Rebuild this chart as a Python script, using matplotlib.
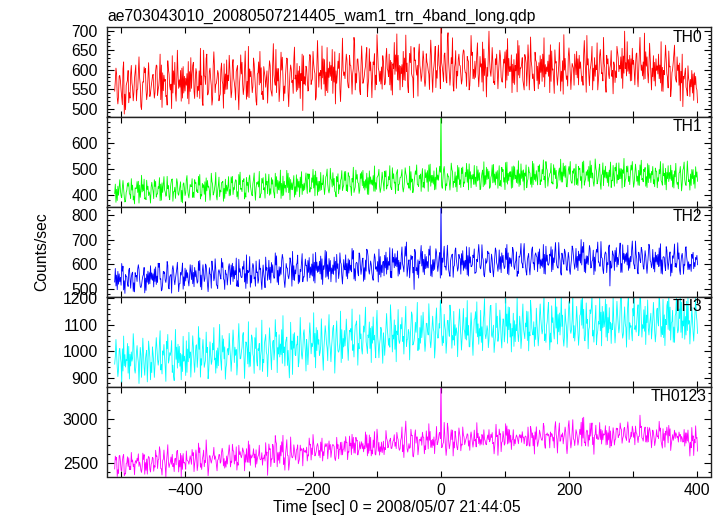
import numpy as np
import matplotlib
matplotlib.use("Agg")
import matplotlib.pyplot as plt
from matplotlib.ticker import MultipleLocator, FormatStrFormatter

plt.rcParams['font.family'] = ['Liberation Sans', 'DejaVu Sans']

# ---- data: 1-s bins starting at t = -510 s, values read/estimated from the plot ----
# "a" lists hold bins t = -510, -507, ...; "b" lists t = -509, -506, ...; "c" lists t = -508, -505, ...
time_start = -510
time_step = 1.0

th0_a = [
    545, 590, 532, 571, 510, 486, 560, 598, 527, 566, 541, 612, 550, 579, 498, 568, 603, 539, 575, 556,
    588, 541, 610, 559, 523, 592, 570, 534, 601, 548, 636, 562, 519, 587, 555, 604, 540, 578, 526, 595,
    552, 619, 574, 530, 597, 561, 508, 583, 640, 548, 577, 524, 606, 565, 590, 537, 571, 615, 549, 586,
    600, 543, 578, 522, 611, 563, 589, 536, 648, 570, 528, 596, 557, 583, 509, 620, 566, 544, 593, 575,
    561, 610, 532, 587, 652, 571, 546, 599, 520, 584, 627, 558, 601, 539, 576, 616, 553, 590, 495, 582,
    603, 547, 634, 576, 598, 530, 612, 585, 661, 563, 594, 541, 620, 572, 607, 512, 589, 642, 568, 599,
    577, 625, 553, 611, 590, 669, 566, 604, 536, 618, 582, 640, 559, 597, 528, 613, 586, 648, 570, 607,
    621, 566, 603, 640, 547, 615, 588, 692, 573, 609, 556, 630, 595, 541, 618, 583, 657, 600, 532, 611,
    584, 628, 571, 613, 549, 637, 596, 660, 578, 612, 735, 590, 643, 566, 619, 585, 682, 604, 552, 627,
    610, 574, 648, 592, 625, 559, 637, 601, 580, 669, 588, 615, 545, 629, 606, 699, 583, 621, 562, 640,
    594, 633, 568, 617, 651, 585, 608, 541, 626, 597, 675, 579, 614, 560, 631, 600, 548, 622, 589, 645,
    572, 618, 593, 640, 556, 607, 583, 664, 599, 539, 621, 587, 612, 570, 690, 596, 558, 628, 581, 604,
    615, 579, 637, 596, 560, 623, 688, 587, 609, 548, 631, 600, 574, 652, 592, 616, 542, 628, 605, 583,
    620, 597, 646, 611, 578, 635, 603, 672, 590, 628, 614, 561, 643, 600, 625, 584, 694, 609, 566, 632,
    604, 571, 628, 589, 612, 545, 598, 663, 580, 607, 552, 619, 585, 633, 560, 596, 505, 590, 548, 578,
    575, 540, 592, 553,
]
th0_b = [
    571, 529, 583, 548, 602, 537, 566, 515, 589, 553, 578, 520, 594, 561, 540, 607, 549, 582, 531, 569,
    553, 597, 534, 581, 612, 546, 575, 509, 588, 563, 540, 619, 571, 552, 598, 527, 583, 560, 621, 544,
    590, 545, 603, 557, 526, 584, 650, 562, 535, 596, 559, 611, 541, 578, 520, 600, 563, 538, 625, 572,
    558, 612, 567, 595, 540, 586, 619, 553, 578, 531, 602, 566, 630, 548, 589, 561, 605, 523, 580, 597,
    596, 549, 618, 570, 541, 603, 587, 632, 558, 611, 543, 592, 567, 625, 586, 548, 609, 572, 636, 560,
    575, 619, 562, 647, 590, 611, 555, 598, 579, 626, 546, 604, 583, 652, 568, 597, 622, 551, 607, 585,
    613, 570, 637, 584, 603, 548, 626, 591, 610, 565, 599, 657, 578, 620, 587, 641, 562, 604, 596, 550,
    584, 632, 597, 561, 619, 603, 638, 574, 611, 590, 647, 572, 617, 605, 660, 579, 623, 586, 642, 597,
    612, 575, 641, 598, 626, 583, 609, 554, 630, 601, 618, 569, 605, 677, 592, 631, 560, 615, 596, 640,
    588, 636, 603, 557, 621, 598, 645, 576, 612, 590, 634, 568, 653, 601, 583, 622, 609, 566, 628, 594,
    620, 581, 602, 646, 573, 629, 595, 614, 562, 641, 586, 605, 631, 548, 617, 664, 590, 607, 573, 625,
    609, 563, 627, 581, 613, 595, 638, 570, 602, 651, 584, 610, 545, 623, 599, 575, 634, 592, 616, 560,
    587, 628, 603, 570, 641, 597, 612, 559, 625, 604, 583, 669, 596, 620, 571, 606, 637, 588, 614, 598,
    612, 580, 631, 602, 655, 591, 618, 596, 637, 572, 624, 609, 583, 646, 598, 620, 577, 633, 611, 590,
    582, 619, 598, 640, 566, 606, 587, 624, 553, 609, 592, 641, 574, 598, 617, 566, 583, 604, 533, 569,
    556, 589, 561, 548,
]
th0_c = [
    604, 512, 585, 530, 620, 497, 573, 541, 611, 520, 596, 548, 633, 505, 569, 592, 523, 618, 540, 582,
    527, 612, 549, 640, 503, 586, 531, 623, 558, 500, 597, 541, 650, 574, 519, 608, 545, 590, 512, 631,
    611, 526, 593, 547, 655, 518, 584, 629, 537, 604, 509, 646, 562, 598, 532, 617, 501, 589, 550, 637,
    528, 626, 551, 603, 497, 638, 564, 599, 524, 660, 582, 541, 615, 519, 592, 647, 536, 608, 555, 514,
    623, 541, 667, 560, 603, 518, 645, 582, 539, 630, 505, 612, 573, 658, 544, 597, 526, 640, 563, 609,
    545, 639, 571, 615, 522, 675, 592, 550, 628, 533, 657, 580, 611, 539, 646, 565, 603, 518, 681, 594,
    640, 556, 612, 537, 683, 590, 628, 545, 661, 572, 609, 531, 654, 583, 620, 548, 690, 597, 563, 636,
    561, 655, 582, 624, 535, 670, 596, 637, 548, 613, 574, 689, 557, 642, 590, 528, 625, 611, 666, 570,
    648, 557, 620, 589, 676, 542, 631, 598, 663, 551, 607, 638, 573, 695, 560, 616, 545, 649, 584, 612,
    563, 651, 592, 634, 548, 688, 577, 622, 640, 556, 607, 671, 585, 530, 645, 596, 657, 570, 613, 551,
    650, 569, 627, 553, 680, 595, 638, 566, 611, 543, 662, 604, 573, 639, 558, 625, 684, 577, 546, 620,
    551, 636, 570, 682, 589, 622, 541, 648, 575, 617, 560, 670, 596, 537, 629, 584, 656, 549, 610, 640,
    647, 561, 620, 583, 675, 542, 628, 600, 660, 571, 612, 548, 637, 590, 683, 566, 615, 577, 649, 538,
    567, 660, 595, 633, 552, 699, 584, 626, 571, 655, 598, 640, 556, 683, 612, 575, 646, 591, 668, 548,
    636, 558, 610, 577, 672, 544, 625, 590, 648, 531, 601, 663, 568, 612, 520, 640, 576, 555, 610, 531,
    598, 521, 583, 515,
]

th1_a = [
    405, 421, 398, 416, 427, 391, 410, 433, 402, 418, 395, 424, 409, 437, 475, 415, 388, 420, 411, 429,
    414, 432, 403, 425, 441, 409, 419, 398, 436, 422, 461, 412, 428, 404, 433, 417, 446, 408, 424, 415,
    431, 410, 444, 419, 437, 401, 428, 450, 415, 433, 407, 440, 422, 395, 436, 418, 447, 425, 404, 430,
    420, 446, 428, 458, 412, 439, 425, 451, 407, 436, 463, 421, 442, 416, 448, 430, 402, 445, 427, 438,
    449, 423, 441, 405, 432, 456, 418, 444, 398, 437, 428, 466, 420, 446, 431, 413, 452, 426, 440, 419,
    434, 461, 427, 448, 476, 437, 452, 416, 445, 430, 469, 441, 424, 457, 436, 410, 450, 439, 463, 429,
    455, 438, 472, 431, 449, 419, 460, 444, 481, 435, 452, 426, 466, 441, 457, 414, 447, 470, 433, 451,
    443, 469, 437, 458, 425, 462, 449, 487, 440, 466, 431, 455, 472, 445, 418, 461, 450, 478, 438, 463,
    471, 448, 466, 493, 452, 475, 441, 468, 457, 484, 720, 462, 479, 436, 470, 455, 489, 447, 473, 460,
    458, 482, 449, 470, 497, 461, 476, 440, 468, 453, 485, 464, 431, 474, 459, 491, 467, 446, 480, 462,
    477, 455, 489, 466, 448, 483, 470, 508, 459, 475, 444, 481, 463, 496, 472, 451, 486, 468, 439, 479,
    466, 490, 457, 481, 470, 503, 462, 485, 449, 477, 494, 468, 456, 488, 472, 512, 460, 479, 445, 483,
    481, 462, 497, 470, 486, 451, 475, 509, 466, 484, 458, 490, 473, 443, 479, 495, 464, 487, 470, 456,
    468, 492, 477, 461, 500, 483, 455, 488, 471, 514, 466, 480, 452, 494, 476, 463, 489, 470, 447, 482,
    477, 458, 491, 466, 481, 449, 473, 502, 462, 486, 455, 478, 469, 440, 484, 467, 495, 459, 474, 451,
    480, 462, 475, 468,
]
th1_b = [
    441, 378, 430, 395, 455, 372, 418, 447, 386, 437, 365, 424, 452, 390, 411, 460, 381, 433, 399, 448,
    385, 452, 403, 466, 379, 437, 410, 471, 392, 444, 375, 429, 462, 398, 450, 369, 426, 458, 401, 440,
    462, 389, 447, 408, 478, 395, 439, 374, 455, 417, 483, 399, 441, 380, 468, 411, 452, 386, 437, 470,
    398, 471, 420, 455, 383, 487, 412, 462, 391, 448, 476, 403, 459, 379, 441, 490, 405, 466, 387, 452,
    479, 402, 458, 388, 470, 419, 495, 396, 452, 410, 483, 381, 446, 474, 400, 461, 392, 489, 415, 456,
    405, 480, 423, 498, 396, 467, 412, 486, 439, 401, 474, 418, 502, 430, 463, 392, 481, 421, 493, 437,
    490, 412, 471, 397, 506, 430, 478, 405, 463, 494, 418, 483, 401, 469, 437, 511, 421, 476, 409, 487,
    415, 493, 436, 512, 420, 481, 404, 497, 441, 475, 411, 504, 447, 425, 489, 408, 470, 515, 432, 480,
    501, 426, 485, 413, 518, 447, 492, 421, 476, 510, 435, 496, 417, 481, 449, 522, 428, 488, 412, 505,
    428, 507, 445, 521, 419, 489, 461, 513, 432, 496, 420, 482, 527, 441, 499, 425, 476, 517, 438, 493,
    512, 431, 497, 420, 526, 455, 489, 428, 508, 447, 531, 438, 493, 418, 515, 461, 484, 429, 520, 452,
    438, 516, 452, 534, 427, 495, 469, 521, 441, 503, 424, 488, 537, 449, 510, 433, 496, 528, 445, 501,
    518, 436, 502, 425, 530, 460, 496, 431, 514, 449, 538, 442, 499, 421, 523, 467, 487, 433, 526, 455,
    433, 522, 458, 501, 426, 540, 463, 511, 439, 495, 429, 518, 472, 436, 533, 450, 505, 428, 514, 447,
    509, 431, 490, 452, 528, 437, 483, 419, 512, 461, 494, 426, 521, 448, 486, 415, 503, 441, 530, 458,
    436, 497, 425, 488,
]
th1_c = [
    371, 433, 458, 389, 420, 376, 445, 403, 462, 380, 427, 451, 368, 415, 439, 384, 456, 397, 368, 428,
    458, 391, 431, 377, 446, 470, 394, 423, 381, 459, 412, 386, 447, 415, 373, 441, 397, 474, 388, 432,
    390, 458, 413, 471, 384, 444, 402, 465, 429, 379, 451, 407, 486, 418, 393, 447, 375, 460, 414, 396,
    469, 401, 446, 392, 478, 421, 455, 384, 467, 410, 438, 396, 484, 427, 451, 388, 463, 419, 481, 404,
    398, 466, 417, 483, 405, 451, 386, 472, 426, 494, 408, 459, 419, 391, 477, 429, 468, 401, 445, 484,
    481, 410, 465, 426, 491, 398, 452, 419, 476, 432, 499, 407, 461, 485, 413, 470, 404, 455, 417, 489,
    416, 485, 432, 463, 409, 495, 447, 418, 488, 426, 458, 402, 492, 440, 474, 413, 467, 498, 425, 461,
    491, 422, 470, 433, 504, 445, 478, 416, 466, 497, 427, 483, 438, 510, 449, 421, 492, 440, 474, 413,
    429, 497, 448, 515, 433, 475, 419, 504, 456, 487, 425, 509, 442, 472, 418, 498, 451, 430, 513, 440,
    503, 431, 486, 448, 519, 427, 479, 440, 510, 456, 423, 495, 437, 506, 462, 430, 515, 448, 488, 425,
    435, 506, 449, 524, 441, 488, 425, 511, 463, 496, 432, 519, 452, 484, 427, 507, 440, 529, 458, 493,
    511, 439, 497, 458, 528, 433, 482, 445, 516, 462, 435, 503, 449, 522, 467, 430, 509, 456, 492, 437,
    440, 509, 455, 526, 437, 489, 452, 531, 464, 433, 502, 451, 518, 476, 435, 510, 447, 495, 428, 513,
    505, 444, 523, 462, 496, 432, 510, 451, 484, 528, 446, 491, 437, 515, 458, 498, 433, 520, 463, 490,
    442, 503, 427, 497, 455, 520, 439, 486, 451, 514, 430, 492, 457, 423, 509, 444, 526, 436, 484, 418,
    497, 441, 508, 452,
]

th2_a = [
    528, 556, 519, 547, 572, 533, 551, 510, 542, 563, 525, 549, 581, 537, 515, 558, 544, 527, 566, 539,
    561, 530, 552, 588, 541, 524, 569, 546, 507, 555, 578, 536, 560, 543, 521, 574, 549, 532, 566, 548,
    538, 567, 549, 523, 575, 556, 598, 541, 563, 530, 558, 580, 545, 516, 569, 551, 587, 536, 560, 547,
    574, 549, 591, 557, 533, 568, 546, 580, 562, 522, 571, 555, 603, 548, 566, 537, 584, 559, 541, 576,
    559, 588, 566, 543, 597, 575, 552, 614, 568, 546, 584, 561, 590, 537, 577, 603, 556, 571, 529, 585,
    596, 567, 589, 552, 608, 575, 593, 561, 622, 579, 547, 598, 571, 585, 559, 612, 583, 566, 601, 574,
    577, 603, 564, 596, 621, 582, 608, 553, 594, 617, 586, 572, 633, 589, 566, 604, 580, 611, 558, 597,
    612, 585, 627, 596, 571, 608, 643, 590, 616, 579, 601, 624, 690, 605, 588, 632, 498, 574, 618, 603,
    593, 620, 582, 611, 637, 598, 574, 616, 603, 629, 860, 608, 589, 626, 577, 614, 641, 595, 618, 586,
    622, 597, 614, 580, 635, 605, 591, 627, 566, 610, 638, 599, 618, 584, 612, 646, 600, 575, 621, 606,
    598, 631, 607, 582, 619, 646, 603, 625, 590, 614, 571, 629, 608, 652, 595, 617, 585, 623, 604, 637,
    629, 601, 618, 588, 640, 612, 596, 633, 659, 607, 622, 584, 615, 645, 600, 627, 610, 574, 621, 634,
    607, 632, 614, 700, 648, 621, 603, 639, 585, 617, 629, 660, 608, 592, 625, 612, 643, 599, 512, 588,
    634, 611, 628, 652, 603, 619, 641, 597, 626, 610, 636, 581, 622, 649, 607, 630, 615, 593, 638, 614,
    603, 627, 609, 640, 592, 618, 631, 574, 612, 635, 601, 624, 589, 615, 646, 607, 620, 596, 629, 610,
    598, 624, 607, 619,
]
th2_b = [
    583, 497, 561, 515, 592, 482, 549, 576, 503, 568, 488, 555, 598, 510, 537, 587, 494, 572, 521, 565,
    508, 589, 526, 603, 492, 571, 535, 611, 500, 558, 594, 517, 580, 489, 566, 605, 513, 577, 531, 598,
    596, 509, 574, 530, 615, 497, 563, 601, 520, 586, 503, 569, 622, 514, 578, 540, 607, 498, 560, 589,
    518, 604, 541, 625, 509, 582, 547, 613, 502, 575, 631, 524, 593, 511, 569, 619, 530, 597, 505, 586,
    616, 524, 598, 545, 634, 517, 588, 640, 531, 603, 552, 626, 511, 594, 561, 637, 527, 609, 549, 621,
    531, 627, 556, 642, 524, 609, 570, 633, 518, 596, 651, 540, 615, 562, 629, 527, 602, 646, 553, 619,
    638, 541, 617, 569, 655, 533, 604, 646, 559, 625, 538, 661, 577, 613, 546, 642, 590, 528, 631, 566,
    553, 649, 578, 667, 545, 628, 593, 654, 560, 637, 589, 672, 551, 618, 637, 565, 660, 586, 544, 641,
    652, 558, 631, 585, 674, 549, 620, 663, 571, 647, 556, 638, 592, 677, 562, 629, 547, 656, 598, 640,
    560, 655, 584, 671, 552, 630, 599, 662, 568, 645, 588, 679, 557, 623, 653, 575, 641, 549, 666, 596,
    658, 566, 636, 590, 680, 557, 625, 668, 579, 650, 563, 643, 601, 684, 570, 632, 557, 661, 606, 646,
    570, 662, 593, 680, 560, 637, 606, 671, 578, 652, 596, 688, 566, 631, 661, 584, 648, 559, 674, 603,
    664, 574, 641, 597, 689, 565, 633, 676, 586, 657, 572, 649, 609, 692, 579, 640, 566, 669, 613, 654,
    575, 667, 598, 686, 567, 644, 611, 677, 584, 659, 603, 694, 572, 638, 668, 590, 655, 563, 681, 609,
    660, 569, 636, 590, 683, 560, 627, 671, 579, 650, 566, 643, 603, 687, 575, 634, 560, 664, 607, 579,
    571, 648, 590, 636,
]
th2_c = [
    512, 571, 529, 603, 496, 558, 521, 584, 547, 490, 566, 530, 579, 505, 552, 484, 560, 519, 594, 535,
    581, 518, 604, 539, 497, 563, 526, 596, 549, 483, 575, 542, 608, 521, 556, 499, 584, 545, 512, 570,
    521, 587, 545, 612, 508, 570, 530, 594, 489, 561, 613, 533, 580, 502, 567, 624, 541, 576, 516, 602,
    597, 530, 574, 511, 620, 553, 590, 528, 638, 566, 507, 584, 541, 613, 523, 579, 498, 561, 629, 535,
    538, 607, 555, 646, 527, 590, 559, 624, 506, 585, 541, 613, 652, 534, 600, 521, 579, 643, 548, 594,
    615, 545, 601, 532, 648, 567, 612, 539, 594, 656, 551, 623, 529, 597, 575, 640, 542, 608, 520, 585,
    551, 622, 575, 664, 540, 603, 566, 639, 582, 531, 617, 654, 560, 598, 535, 627, 571, 661, 548, 609,
    636, 560, 611, 547, 663, 586, 627, 552, 608, 670, 569, 633, 580, 545, 620, 588, 648, 558, 612, 676,
    568, 640, 585, 661, 553, 618, 579, 648, 596, 544, 625, 673, 576, 614, 551, 639, 590, 666, 572, 625,
    643, 575, 616, 557, 668, 590, 637, 563, 620, 680, 581, 628, 549, 604, 644, 566, 619, 588, 655, 571,
    580, 646, 598, 665, 562, 627, 591, 656, 605, 551, 632, 684, 585, 620, 556, 643, 599, 670, 577, 634,
    650, 583, 622, 562, 673, 598, 641, 570, 626, 688, 588, 635, 556, 610, 651, 575, 627, 596, 664, 580,
    587, 653, 605, 672, 570, 634, 598, 663, 612, 558, 640, 690, 592, 627, 562, 650, 606, 678, 584, 641,
    656, 589, 629, 567, 679, 604, 646, 575, 632, 694, 594, 641, 561, 616, 658, 580, 633, 600, 670, 586,
    581, 649, 599, 666, 563, 628, 592, 657, 606, 552, 634, 682, 587, 621, 558, 644, 600, 671, 578, 600,
    640, 582, 627, 598,
]

th3_a = [
    952, 995, 931, 978, 1010, 946, 970, 918, 989, 963, 1025, 940, 981, 955, 902, 997, 968, 885, 1006, 959,
    991, 947, 1014, 968, 930, 1002, 979, 1038, 956, 985, 921, 890, 970, 1027, 944, 988, 963, 909, 1009, 975,
    962, 1019, 981, 940, 1008, 973, 1045, 955, 996, 927, 987, 1031, 968, 1003, 946, 990, 1060, 972, 938, 1011,
    1012, 968, 1037, 985, 950, 1023, 997, 1071, 976, 1009, 941, 1018, 990, 1052, 963, 1004, 982, 925, 1029, 998,
    985, 1040, 1003, 968, 1057, 1014, 979, 1082, 996, 1031, 947, 900, 1008, 1066, 988, 1025, 960, 1049, 1001, 1036,
    1045, 1003, 1061, 1018, 979, 1090, 1027, 996, 1053, 1010, 1072, 965, 1036, 1015, 1098, 991, 1040, 1007, 958, 1049,
    1021, 1067, 1032, 1086, 1004, 1055, 1115, 1029, 1048, 990, 1073, 1037, 1062, 1011, 1094, 1043, 976, 1058, 1026, 1081,
    1070, 1031, 1088, 1049, 1123, 1062, 1008, 1077, 1045, 1101, 1038, 1066, 1019, 1083, 1054, 1137, 1041, 1072, 1003, 1090,
    1052, 1094, 1031, 1078, 1118, 1047, 1086, 1013, 1069, 1105, 1160, 1058, 1097, 1036, 1081, 1142, 1060, 1023, 1089, 1071,
    1099, 1048, 1083, 1128, 1061, 1017, 1092, 1070, 1150, 1055, 1086, 1034, 1109, 1066, 1097, 1042, 1174, 1075, 1028, 1090,
    1061, 1112, 1079, 1036, 1095, 1168, 1054, 1087, 1019, 1101, 1070, 1133, 1048, 1084, 1107, 1041, 1073, 1156, 1062, 1091,
    1103, 1058, 1125, 1080, 1041, 1097, 1185, 1069, 1110, 1047, 1088, 1139, 1062, 1094, 1020, 1116, 1075, 1160, 1083, 1051,
    1074, 1119, 1062, 1195, 1087, 1040, 1106, 1081, 1143, 1058, 1097, 1025, 1112, 1078, 1170, 1093, 1054, 1128, 1085, 1105,
    1118, 1072, 1140, 1091, 1198, 1066, 1104, 1130, 1045, 1097, 1162, 1083, 1115, 1059, 1192, 1101, 1076, 1137, 1088, 1122,
    1085, 1129, 1067, 1110, 1176, 1094, 1052, 1121, 1188, 1079, 1107, 1035, 1134, 1098, 1160, 1072, 1115, 1046, 1189, 1103,
    1082, 1125, 1090, 1140,
]
th3_b = [
    981, 940, 1003, 957, 926, 988, 965, 1019, 945, 974, 933, 996, 958, 1015, 971, 939, 990, 951, 977, 920,
    958, 1005, 972, 1033, 951, 986, 942, 1010, 967, 1001, 948, 980, 1016, 957, 993, 924, 982, 1040, 961, 998,
    1003, 957, 1022, 976, 1051, 948, 992, 968, 1015, 982, 951, 1006, 975, 937, 1028, 961, 998, 1017, 955, 987,
    979, 1024, 958, 1007, 1041, 972, 1016, 985, 1036, 953, 997, 1062, 978, 1011, 945, 1030, 1004, 969, 1048, 987,
    1023, 982, 1036, 1001, 1071, 990, 1028, 955, 1017, 1045, 1004, 972, 1039, 1012, 984, 1058, 1020, 990, 1067, 1003,
    1010, 1056, 991, 1035, 1068, 1003, 1044, 1019, 985, 1052, 1031, 1078, 1008, 1049, 1026, 1071, 1002, 1034, 1082, 1017,
    1057, 1013, 1079, 1042, 1026, 1098, 1049, 1010, 1066, 1035, 1104, 1018, 1052, 1088, 1031, 1061, 1100, 1023, 1047, 1012,
    1041, 1093, 1060, 1016, 1078, 1047, 1099, 1063, 1030, 1085, 1057, 1112, 1044, 1070, 1096, 1024, 1065, 1108, 1049, 1031,
    1083, 1044, 1106, 1062, 1039, 1093, 1074, 1126, 1050, 1088, 1064, 1032, 1079, 1116, 1057, 1094, 1043, 1101, 1068, 1112,
    1061, 1110, 1075, 1043, 1098, 1084, 1036, 1121, 1069, 1104, 1058, 1093, 1139, 1048, 1081, 1117, 1062, 1099, 1054, 1133,
    1094, 1049, 1123, 1067, 1141, 1082, 1105, 1058, 1116, 1079, 1037, 1098, 1129, 1066, 1093, 1150, 1059, 1088, 1112, 1045,
    1070, 1131, 1092, 1154, 1066, 1113, 1079, 1035, 1127, 1098, 1168, 1074, 1106, 1137, 1058, 1093, 1142, 1081, 1121, 1097,
    1108, 1063, 1135, 1099, 1159, 1072, 1120, 1093, 1166, 1080, 1127, 1061, 1103, 1148, 1089, 1114, 1178, 1070, 1110, 1082,
    1083, 1126, 1101, 1164, 1075, 1115, 1090, 1182, 1108, 1069, 1134, 1097, 1151, 1081, 1118, 1087, 1170, 1109, 1062, 1144,
    1121, 1077, 1153, 1096, 1119, 1064, 1138, 1101, 1083, 1167, 1113, 1092, 1145, 1070, 1124, 1186, 1096, 1132, 1079, 1116,
    1108, 1073, 1151, 1117,
]
th3_c = [
    1045, 905, 1011, 884, 1058, 941, 1030, 896, 998, 1067, 918, 1022, 879, 986, 1050, 910, 1004, 1039, 893, 1017,
    902, 1052, 948, 1078, 915, 1026, 887, 1064, 995, 1041, 908, 1083, 937, 1019, 893, 1057, 961, 921, 1072, 903,
    1059, 921, 1025, 1094, 903, 1008, 940, 1073, 897, 1036, 962, 1090, 918, 1013, 1102, 929, 1047, 895, 1006, 1068,
    925, 1081, 1016, 911, 1105, 973, 1060, 898, 1032, 1112, 944, 1051, 917, 1089, 1010, 930, 1118, 958, 1064, 905,
    1089, 931, 1042, 1120, 920, 1063, 988, 1135, 945, 1054, 962, 1110, 913, 1071, 1025, 942, 1128, 971, 1082, 926,
    950, 1108, 1031, 1146, 938, 1080, 985, 1123, 929, 1097, 1013, 1139, 961, 1088, 918, 1115, 997, 1152, 973, 1079,
    1122, 966, 1074, 1160, 979, 1102, 948, 1138, 1009, 1096, 1167, 992, 1111, 958, 1130, 1012, 1155, 976, 1091, 955,
    985, 1143, 1023, 1176, 998, 1119, 961, 1158, 1041, 1128, 990, 1170, 1047, 968, 1149, 1030, 1110, 1185, 1008, 1135,
    1148, 1000, 1106, 1180, 1014, 1133, 975, 1164, 1052, 1193, 1022, 1140, 993, 1117, 1175, 1012, 1151, 1060, 980, 1160,
    1005, 1162, 1047, 1192, 1018, 1146, 985, 1124, 1187, 1027, 1155, 1003, 1199, 1066, 1014, 1170, 1053, 996, 1182, 1038,
    1156, 1013, 1118, 1203, 1031, 1166, 998, 1144, 1037, 1205, 1070, 1011, 1179, 1048, 1152, 1002, 1192, 1065, 1019, 1163,
    1021, 1179, 1066, 1215, 1034, 1154, 1006, 1172, 1075, 1202, 1028, 1145, 1220, 1047, 1160, 1015, 1188, 1068, 1225, 1039,
    1170, 1023, 1141, 1228, 1048, 1183, 1010, 1157, 1218, 1035, 1174, 1078, 1211, 1021, 1150, 1197, 1040, 1165, 1030, 1207,
    1032, 1189, 1070, 1230, 1050, 1168, 1016, 1214, 1091, 1040, 1206, 1073, 1176, 1228, 1054, 1157, 1026, 1194, 1099, 1047,
    1185, 1036, 1163, 1232, 1055, 1196, 1022, 1173, 1221, 1043, 1155, 1034, 1210, 1080, 1235, 1051, 1177, 1062, 1201, 1028,
    1167, 1039, 1203, 1068,
]


def interleave(a, b, c):
    out = []
    for i, v in enumerate(a):
        out.append(v)
        if i < len(b):
            out.append(b[i])
        if i < len(c):
            out.append(c[i])
    return out


th0 = interleave(th0_a, th0_b, th0_c)
th1 = interleave(th1_a, th1_b, th1_c)
th2 = interleave(th2_a, th2_b, th2_c)
th3 = interleave(th3_a, th3_b, th3_c)
# TH0123 is the sum of the four energy bands
n = min(len(th0), len(th1), len(th2), len(th3))
th0123 = [th0[i] + th1[i] + th2[i] + th3[i] for i in range(n)]

band_names = ["TH0", "TH1", "TH2", "TH3", "TH0123"]
band_values = [th0, th1, th2, th3, th0123]

title_text = "ae703043010_20080507214405_wam1_trn_4band_long.qdp"
xlabel_text = "Time [sec] 0 = 2008/05/07 21:44:05"
ylabel_text = "Counts/sec"

# ---- styling ----
colors = ["#ff0000", "#00ff00", "#0000ff", "#00ffff", "#ff00ff"]
ylims = [(478, 709), (353, 699), (468, 832), (867, 1206), (2344, 3367)]
majors = [50, 100, 100, 100, 500]
minors = [10, 20, 20, 20, 100]
label_x = [0.985, 0.985, 0.985, 0.985, 0.993]

W, H = 724, 516
fig = plt.figure(figsize=(W / 100, H / 100), dpi=100)
axes = fig.subplots(5, 1, sharex=True)
fig.subplots_adjust(left=107 / W, right=711 / W, top=1 - 27.3 / H, bottom=1 - 476.5 / H, hspace=0)

FS = 11.3
for i, ax in enumerate(axes):
    vals = band_values[i]
    t = time_start + time_step * np.arange(len(vals))
    ax.plot(t, vals, color=colors[i], lw=0.6)
    ax.set_ylim(*ylims[i])
    ax.yaxis.set_major_locator(MultipleLocator(majors[i]))
    ax.yaxis.set_minor_locator(MultipleLocator(minors[i]))
    ax.yaxis.set_major_formatter(FormatStrFormatter('%d'))
    ax.tick_params(axis='both', which='both', direction='in', top=True, right=True,
                   labelsize=FS, width=0.8, colors='black')
    ax.tick_params(axis='y', which='major', length=5, pad=6.5)
    ax.tick_params(axis='y', which='minor', length=2.5)
    ax.tick_params(axis='x', which='major', length=4.5, pad=5)
    ax.tick_params(axis='x', which='minor', length=4.5)
    for sp in ax.spines.values():
        sp.set_linewidth(1.0)
        sp.set_color('#222222')
    ax.text(label_x[i], 0.975, band_names[i], transform=ax.transAxes,
            ha='right', va='top', fontsize=FS)

axes[-1].set_xlim(-522, 422)
axes[-1].xaxis.set_major_locator(MultipleLocator(200))
axes[-1].xaxis.set_minor_locator(MultipleLocator(100))

fig.text(107 / W, 1 - 20.5 / H, title_text, ha='left', va='baseline', fontsize=FS)
fig.text(397 / W, 1 - 512 / H, xlabel_text, ha='center', va='baseline', fontsize=FS)
fig.text(42 / W, 1 - 252 / H, ylabel_text, ha='center', va='center', rotation=90, fontsize=FS)

fig.savefig("out.png", dpi=100)
